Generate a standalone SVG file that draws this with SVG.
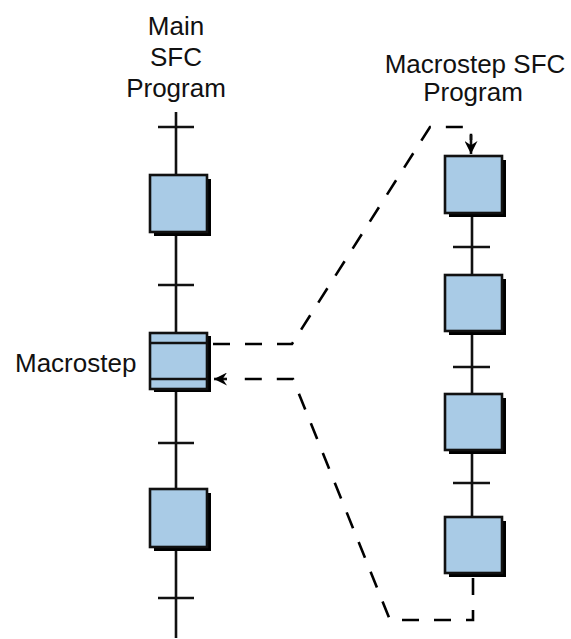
<svg xmlns="http://www.w3.org/2000/svg" width="571" height="639" viewBox="0 0 571 639">
<style>
.t{font-family:"Liberation Sans",Arial,sans-serif;font-size:26px;fill:#111}
.ln{stroke:#111;stroke-width:2.6;fill:none}
.sh{fill:#000}
.bx{fill:#a9cbe6;stroke:#111;stroke-width:2.6}
.dash{stroke:#000;stroke-width:2.6;fill:none;stroke-dasharray:17 15}
</style>
<defs>
<marker id="ah" viewBox="0 0 12 12" refX="12" refY="6" markerWidth="13" markerHeight="13" markerUnits="userSpaceOnUse" orient="auto">
<path d="M0,0 L12,6 L0,12 L4,6 z" fill="#000"/>
</marker>
</defs>
<rect width="571" height="639" fill="#fff"/>
<g id="labels">
<text class="t" text-anchor="middle" x="176" y="35">Main</text>
<text class="t" text-anchor="middle" x="176" y="66">SFC</text>
<text class="t" text-anchor="middle" x="176" y="97">Program</text>
<text class="t" text-anchor="middle" x="475" y="73">Macrostep SFC</text>
<text class="t" text-anchor="middle" x="473" y="101">Program</text>
<text class="t" x="15" y="372">Macrostep</text>
</g>
<g id="main-column">
<line class="ln" x1="176" y1="112" x2="176" y2="638"/>
<line class="ln" x1="158" y1="127" x2="194" y2="127"/>
<line class="ln" x1="158" y1="285" x2="194" y2="285"/>
<line class="ln" x1="158" y1="443" x2="194" y2="443"/>
<line class="ln" x1="158" y1="598" x2="194" y2="598"/>
</g>
<g id="macro-column">
<line class="ln" x1="472" y1="156" x2="472" y2="573"/>
<line class="ln" x1="453" y1="247" x2="490" y2="247"/>
<line class="ln" x1="453" y1="367" x2="490" y2="367"/>
<line class="ln" x1="453" y1="483" x2="490" y2="483"/>
</g>
<g id="main-step1"><rect class="sh" x="154" y="179" width="57" height="57"/><rect class="bx" x="150" y="175" width="57" height="57"/></g>
<g id="macrostep"><rect class="sh" x="154" y="336" width="57" height="56"/><rect class="bx" x="150" y="333" width="57" height="56"/><line class="ln" x1="150" y1="343" x2="207" y2="343"/><line class="ln" x1="150" y1="379" x2="207" y2="379"/></g>
<g id="main-step3"><rect class="sh" x="154" y="493" width="57" height="58"/><rect class="bx" x="150" y="489" width="57" height="58"/></g>
<g id="macro-step1"><rect class="sh" x="449" y="160" width="57" height="57"/><rect class="bx" x="445" y="156" width="57" height="57"/></g>
<g id="macro-step2"><rect class="sh" x="449" y="279" width="57" height="56"/><rect class="bx" x="445" y="275" width="57" height="56"/></g>
<g id="macro-step3"><rect class="sh" x="449" y="398" width="57" height="56"/><rect class="bx" x="445" y="394" width="57" height="56"/></g>
<g id="macro-step4"><rect class="sh" x="449" y="521" width="57" height="56"/><rect class="bx" x="445" y="517" width="57" height="56"/></g>
<g id="connectors">
<polyline class="dash" points="213,344 292,344 430,127 471,127 471,140"/>
<line class="ln" x1="471" y1="135" x2="471" y2="154" marker-end="url(#ah)"/>
<polyline class="dash" points="473,578 473,620 390,620 293,379 236,379"/>
<line class="ln" x1="227" y1="379" x2="214" y2="379" marker-end="url(#ah)"/>
</g>
</svg>
